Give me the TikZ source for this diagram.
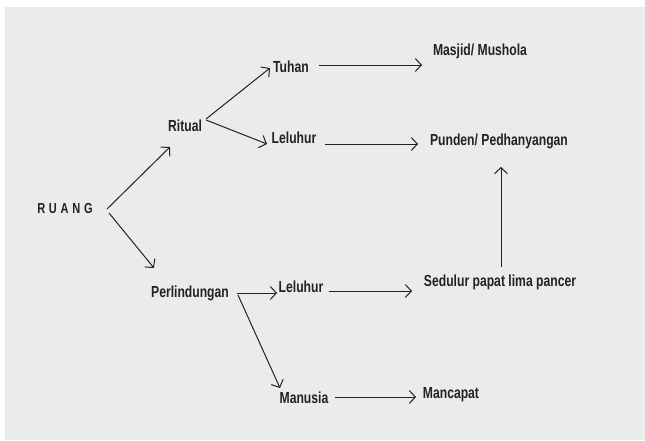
\documentclass[tikz,border=0pt]{standalone}
\usepackage{fontspec}
\newfontfamily\diafont{Liberation Sans}[FakeStretch=0.76]
\usetikzlibrary{calc,arrows.meta}
\definecolor{bggray}{HTML}{EBEBEB}
\definecolor{inkgray}{HTML}{222222}
\begin{document}
\begin{tikzpicture}[x=1pt,y=-1pt,
  >={Straight Barb[length=6pt,width=13pt]},
  every node/.style={inner sep=0pt,text=inkgray,font=\diafont\bfseries\fontsize{16}{18}\selectfont},
  link/.style={->,draw=inkgray,line width=1pt}]
\useasboundingbox (0,0) rectangle (645,440);
\fill[bggray] (5,7) rectangle (645,440);
\node (ruang) at (65,209) {\fontsize{14.5}{16}\selectfont\addfontfeatures{LetterSpace=26}RUANG};
\node (ritual) at (185,126) {Ritual};
\node (perlindungan) at (190,293) {Perlindungan};
\node (tuhan) at (291,67) {Tuhan};
\node (leluhurA) at (294,138) {Leluhur};
\node (leluhurB) at (301,287) {Leluhur};
\node (manusia) at (304,398) {Manusia};
\node (masjid) at (480,51) {Masjid/ Mushola};
\node (punden) at (499,141) {Punden/ Pedhanyangan};
\node (sedulur) at (500,282) {Sedulur papat lima pancer};
\node (mancapat) at (451,395) {Mancapat};
\draw[link] ($(ruang)+(42,0)$) -- ($(ritual)+(-15,21)$);
\draw[link] ($(ruang)+(44,4)$) -- ($(perlindungan)+(-36,-25)$);
\draw[link] ($(ritual)+(21,-7)$) -- ($(tuhan)+(-21,1)$);
\draw[link] ($(ritual)+(21,-6)$) -- ($(leluhurA)+(-27,6)$);
\draw[link] ($(tuhan)+(28,-2)$) -- ($(masjid)+(-58,14)$);
\draw[link] ($(leluhurA)+(31,6)$) -- ($(punden)+(-81,3)$);
\draw[link] ($(sedulur)+(1,-15)$) -- ($(punden)+(2,26)$);
\draw[link] ($(perlindungan)+(47,0)$) -- ($(leluhurB)+(-24,6)$);
\draw[link] ($(leluhurB)+(28,4)$) -- ($(sedulur)+(-88,9)$);
\draw[link] ($(perlindungan)+(48,2)$) -- ($(manusia)+(-24,-10)$);
\draw[link] ($(manusia)+(31,-1)$) -- ($(mancapat)+(-35,2)$);
\end{tikzpicture}
\end{document}
